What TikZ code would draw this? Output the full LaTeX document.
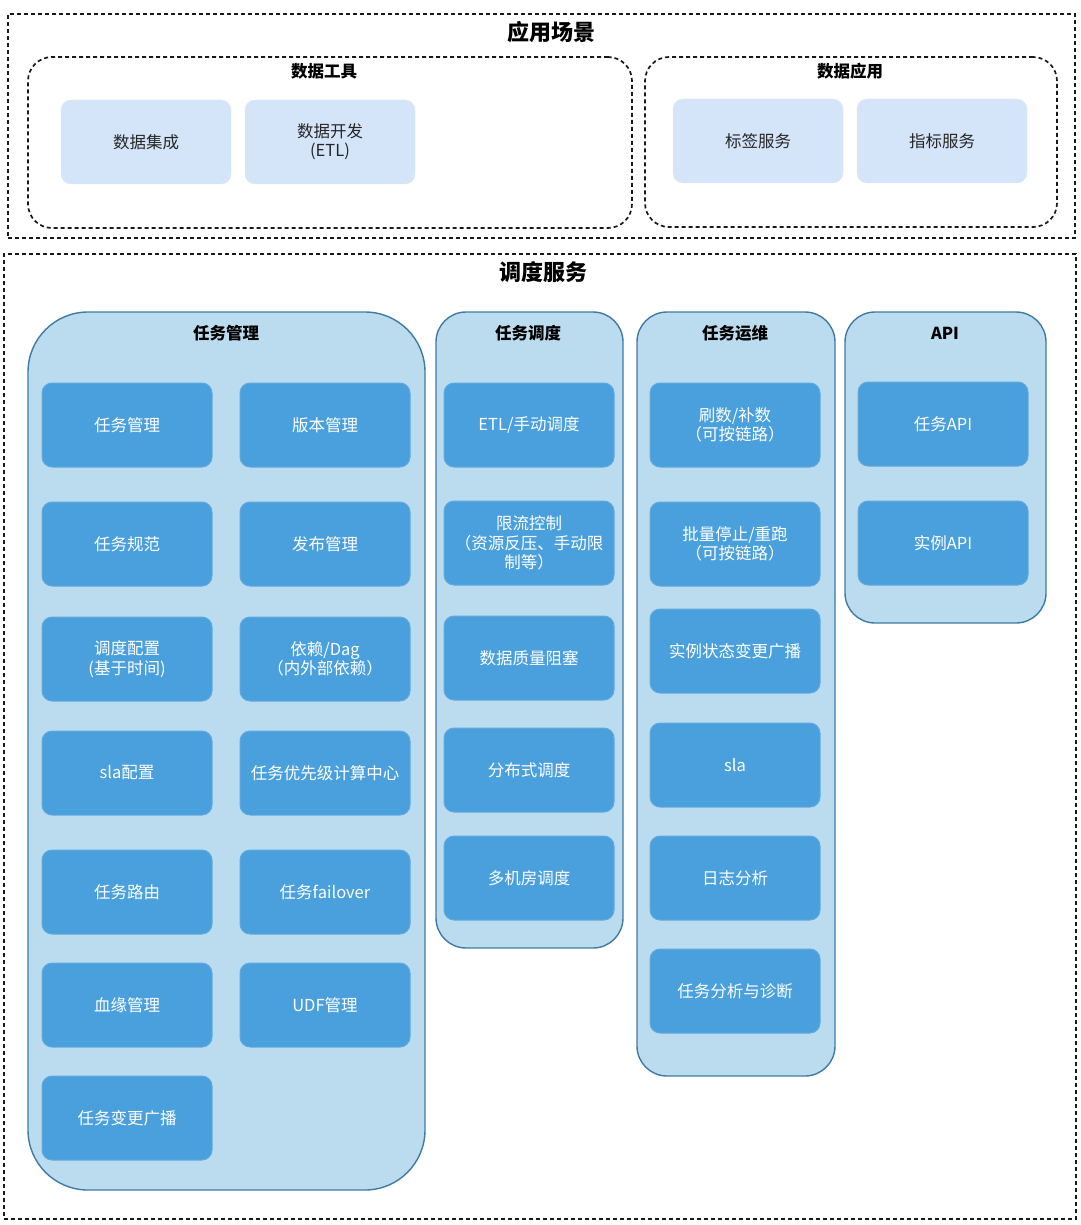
\documentclass[tikz,border=0pt]{standalone}
\usepackage{fontspec}
\setmainfont{Noto Sans CJK SC}
\usepackage{xcolor}
\definecolor{lightbox}{RGB}{212,228,249}
\definecolor{panelfill}{RGB}{187,220,238}
\definecolor{paneldraw}{RGB}{62,122,164}
\definecolor{taskfill}{RGB}{74,160,220}
\definecolor{taskdraw}{RGB}{96,170,224}
\usetikzlibrary{positioning}

\begin{document}
\begin{tikzpicture}[x=1pt, y=-1pt,
    every node/.style={inner sep=0pt, outer sep=0pt},
    zone/.style={draw=black!90, dashed, dash pattern=on 4pt off 3pt, line width=1.7pt, anchor=north west},
    group/.style={zone, rounded corners=24pt},
    appbox/.style={fill=lightbox, draw=lightbox!80!white, rounded corners=10pt, anchor=north west,
        minimum width=170pt, minimum height=84pt, align=center,
        font=\fontsize{16.5}{19}\selectfont, text=black!85},
    panel/.style={fill=panelfill, draw=paneldraw, line width=1.4pt, anchor=north west},
    taskbox/.style={fill=taskfill, draw=taskdraw, line width=1pt, rounded corners=10pt, anchor=north west,
        minimum width=170pt, minimum height=84pt, align=center,
        font=\fontsize{16.5}{19.5}\selectfont, text=white},
    bigtitle/.style={font=\bfseries\fontsize{22}{26}\selectfont},
    title/.style={font=\bfseries\fontsize{16.5}{20}\selectfont}]

  \useasboundingbox (0,0) rectangle (1080,1225);

  % application scenarios
  \node[zone, minimum width=1067pt, minimum height=224pt] (scene) at (8,14) {};
  \node[bigtitle] (scenetitle) at (551,32) {应用场景};

  \node[group, minimum width=604pt, minimum height=171pt] (tools) at (28,57) {};
  \node[title] (toolstitle) at (324,71) {数据工具};
  \node[appbox] (integ) at (61,100) {数据集成};
  \node[appbox] (etl) at (245,100) {数据开发\\(ETL)};

  \node[group, minimum width=412pt, minimum height=170pt] (apps) at (645,57) {};
  \node[title] (appstitle) at (850,71) {数据应用};
  \node[appbox] (tags) at (673,99) {标签服务};
  \node[appbox] (metrics) at (857,99) {指标服务};

  % scheduling service
  \node[zone, minimum width=1072pt, minimum height=965pt] (sched) at (4,254) {};
  \node[bigtitle] (schedtitle) at (543,272) {调度服务};

  % task management
  \node[panel, rounded corners=60pt, minimum width=397pt, minimum height=878pt] (mgmt) at (28,312) {};
  \node[title] (mgmttitle) at (226,333) {任务管理};
  \node[taskbox] (m1) at (42,383) {任务管理};
  \node[taskbox] (m2) at (240,383) {版本管理};
  \node[taskbox] (m3) at (42,502) {任务规范};
  \node[taskbox] (m4) at (240,502) {发布管理};
  \node[taskbox] (m5) at (42,617) {调度配置\\(基于时间)};
  \node[taskbox] (m6) at (240,617) {依赖/Dag\\（内外部依赖）};
  \node[taskbox] (m7) at (42,731) {sla配置};
  \node[taskbox] (m8) at (240,731) {任务优先级计算中心};
  \node[taskbox] (m9) at (42,850) {任务路由};
  \node[taskbox] (m10) at (240,850) {任务failover};
  \node[taskbox] (m11) at (42,963) {血缘管理};
  \node[taskbox] (m12) at (240,963) {UDF管理};
  \node[taskbox] (m13) at (42,1076) {任务变更广播};

  % task scheduling
  \node[panel, rounded corners=30pt, minimum width=187pt, minimum height=636pt] (disp) at (436,312) {};
  \node[title] (disptitle) at (528,333) {任务调度};
  \node[taskbox] (d1) at (444,383) {ETL/手动调度};
  \node[taskbox] (d2) at (444,501) {限流控制\\（资源反压、手动限\\制等）};
  \node[taskbox] (d3) at (444,616) {数据质量阻塞};
  \node[taskbox] (d4) at (444,728) {分布式调度};
  \node[taskbox] (d5) at (444,836) {多机房调度};

  % task operations
  \node[panel, rounded corners=30pt, minimum width=198pt, minimum height=764pt] (ops) at (637,312) {};
  \node[title] (opstitle) at (735,333) {任务运维};
  \node[taskbox] (o1) at (650,383) {刷数/补数\\（可按链路）};
  \node[taskbox] (o2) at (650,502) {批量停止/重跑\\（可按链路）};
  \node[taskbox] (o3) at (650,609) {实例状态变更广播};
  \node[taskbox] (o4) at (650,723) {sla};
  \node[taskbox] (o5) at (650,836) {日志分析};
  \node[taskbox] (o6) at (650,949) {任务分析与诊断};

  % api
  \node[panel, rounded corners=30pt, minimum width=201pt, minimum height=311pt] (api) at (845,312) {};
  \node[title] (apititle) at (945,333) {API};
  \node[taskbox] (a1) at (858,382) {任务API};
  \node[taskbox] (a2) at (858,501) {实例API};

\end{tikzpicture}
\end{document}
